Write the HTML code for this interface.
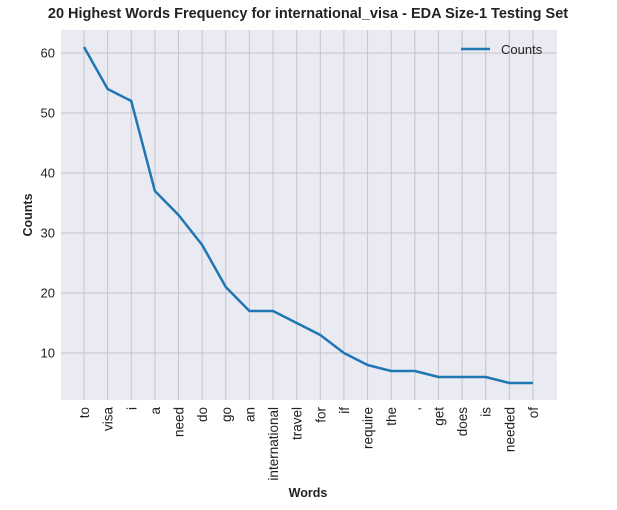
<!DOCTYPE html>
<html><head><meta charset="utf-8"><style>
body{margin:0;background:#fff;}
svg{display:block;font-family:"Liberation Sans",Arial,sans-serif;}
</style></head><body>
<svg id="chart" width="617" height="510">
<rect x="61" y="30" width="496" height="370" fill="#eaeaf2"/>
<g id="grid"></g><g id="ticks"></g>
<text x="308" y="18" text-anchor="middle" font-size="14.5" font-weight="bold" fill="#222">20 Highest Words Frequency for international_visa - EDA Size-1 Testing Set</text>
<text x="308" y="497" text-anchor="middle" font-size="12.5" font-weight="bold" fill="#222">Words</text>
<text transform="translate(32,215) rotate(-90)" text-anchor="middle" font-size="12.5" font-weight="bold" fill="#222">Counts</text>
<g>
<line x1="461" y1="49" x2="490" y2="49" stroke="#1f77b4" stroke-width="2.5"/>
<text x="501" y="54" font-size="13" fill="#222">Counts</text>
</g>
<path id="line" fill="none" stroke="#1f77b4" stroke-width="2.5" stroke-linejoin="round"/>
</svg>
<script>
const words=["to","visa","i","a","need","do","go","an","international","travel","for","if","require","the",",","get","does","is","needed","of"];
const counts=[61,54,52,37,33,28,21,17,17,15,13,10,8,7,7,6,6,6,5,5];
const yTicks=[10,20,30,40,50,60];
const NS="http://www.w3.org/2000/svg";
const xs=i=>84+i*(533-84)/(words.length-1);
const ys=v=>413-6*v;
const grid=document.getElementById('grid'),ticks=document.getElementById('ticks');
function mk(tag,attrs,parent){const e=document.createElementNS(NS,tag);for(const k in attrs)e.setAttribute(k,attrs[k]);parent.appendChild(e);return e;}
words.forEach((w,i)=>{
 const x=xs(i);
 const g=mk('line',{x1:x,x2:x,y1:30,y2:400,stroke:'#c4c4cc','stroke-width':1},grid);
 
 
 const t=mk('text',{transform:`translate(${x+5},407) rotate(-90)`,'text-anchor':'end','font-size':13.5,fill:'#222'},ticks);
 t.textContent=w;
 
 
});
yTicks.forEach(v=>{
 const y=ys(v);
 const g=mk('line',{x1:61,x2:557,y1:y,y2:y,stroke:'#c4c4cc','stroke-width':1},grid);
 
 
 const t=mk('text',{x:55,y:y+4.5,'text-anchor':'end','font-size':13,fill:'#222'},ticks);
 t.textContent=v;
 
 
});
document.getElementById('line').setAttribute('d',counts.map((c,i)=>(i?'L':'M')+xs(i)+','+ys(c)).join(''));
</script>
</body></html>
